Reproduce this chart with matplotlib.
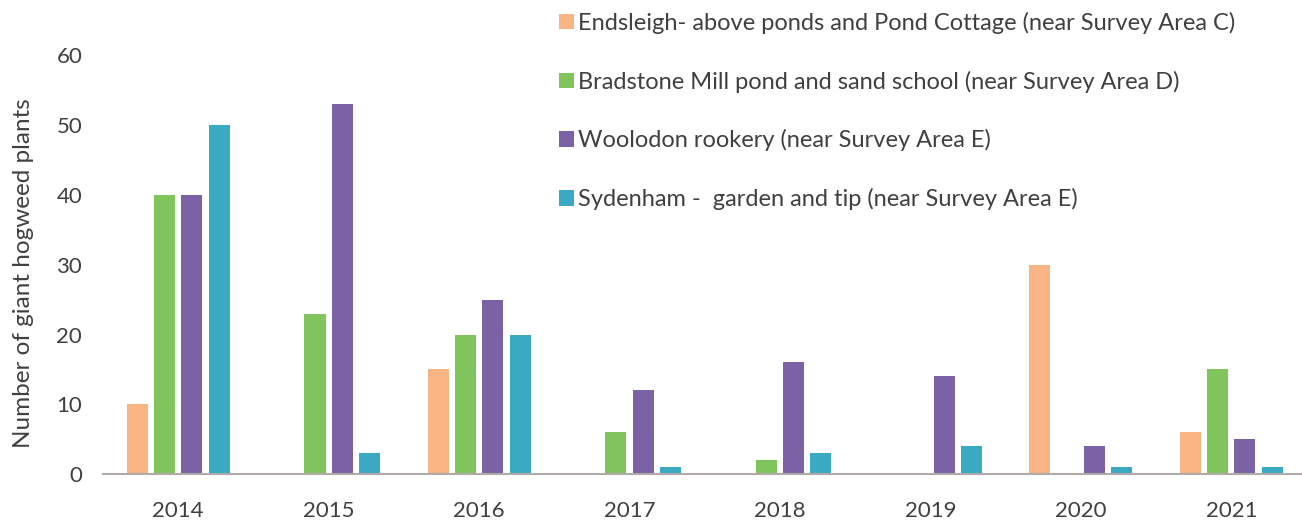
import matplotlib
matplotlib.use("Agg")
import matplotlib.pyplot as plt
import numpy as np

years = ["2014", "2015", "2016", "2017", "2018", "2019", "2020", "2021"]
series_names = [
    "Endsleigh- above ponds and Pond Cottage (near Survey Area C)",
    "Bradstone Mill pond and sand school (near Survey Area D)",
    "Woolodon rookery (near Survey Area E)",
    "Sydenham -  garden and tip (near Survey Area E)",
]
endsleigh = [10, 0, 15, 0, 0, 0, 30, 6]
bradstone = [40, 23, 20, 6, 2, 0, 0, 15]
woolodon = [40, 53, 25, 12, 16, 14, 4, 5]
sydenham = [50, 3, 20, 1, 3, 4, 1, 1]
colors = ["#F9B484", "#80C55C", "#7B61A5", "#3AA9C4"]

plt.rcParams["font.family"] = ["Lato", "DejaVu Sans"]

W, H = 1302, 525
fig = plt.figure(figsize=(W / 100, H / 100), dpi=100)
ax = fig.add_axes([103 / W, (H - 474.3) / H, 1199 / W, (474.3 - 55) / H])

x = np.arange(len(years))
pitch = 0.1815
width = 0.14
all_series = [endsleigh, bradstone, woolodon, sydenham]
for i, (vals, name, c) in enumerate(zip(all_series, series_names, colors)):
    ax.bar(x + (i - 1.5) * pitch, vals, width=width, color=c, label=name)

ax.set_xlim(-0.5, 7.47)
ax.set_ylim(0, 60)
ax.set_yticks(range(0, 61, 10))
ax.set_xticks(x)
ax.set_xticklabels(years)
for s in ["top", "right", "left"]:
    ax.spines[s].set_visible(False)
ax.spines["bottom"].set_color("#b0aaa8")
ax.spines["bottom"].set_linewidth(1.5)
ax.tick_params(axis="both", length=0, labelsize=16, labelcolor="#404040")
ax.tick_params(axis="y", pad=15)
ax.tick_params(axis="x", pad=19)
ax.set_ylabel("Number of giant hogweed plants", fontsize=17.5, color="#404040", labelpad=16)
ax.yaxis.label.set_y(0.48)

leg = fig.legend(loc="upper left", bbox_to_anchor=(540 / W, 1 + 7 / H), frameon=False,
                 fontsize=17, labelspacing=1.55, handlelength=0.64, handleheight=0.64,
                 handletextpad=0.15, borderpad=0.3, labelcolor="#404040")

fig.savefig("out.png", dpi=100)
